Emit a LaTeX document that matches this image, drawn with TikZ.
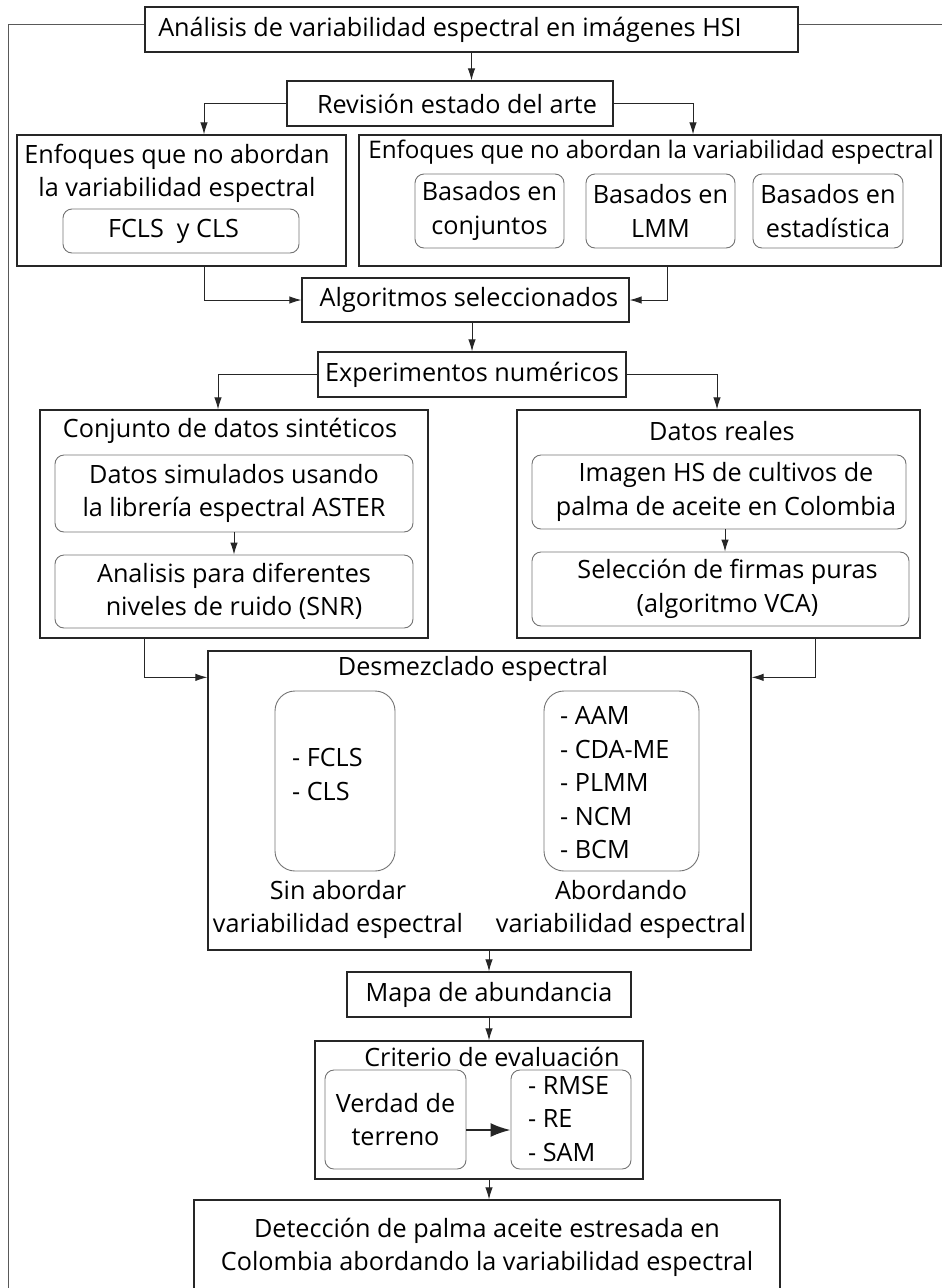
\documentclass[tikz,border=0pt]{standalone}
\usepackage{fontspec}
\setmainfont{Open Sans}
\usetikzlibrary{arrows.meta,calc}

\begin{document}
\begin{tikzpicture}[x=1pt,y=-1pt,
  font=\fontsize{25.2}{33.5}\selectfont,
  box/.style={draw=black!85,line width=1.3pt,inner sep=0pt,align=center},
  sbox/.style={draw=black!55,line width=0.9pt,rounded corners=9pt,inner sep=0pt,align=center},
  txt/.style={inner sep=0pt,align=center},
  lst/.style={inner sep=0pt,align=left,anchor=west},
  arr/.style={draw=black!85,line width=0.9pt,-{Latex[length=12pt,width=7.5pt]}},
  frame/.style={draw=black!65,line width=0.9pt}]
\useasboundingbox (0,0) rectangle (942,1288);
% top
\node[box,minimum width=653pt,minimum height=45pt] (title) at (471.5,29.5) {Análisis de variabilidad espectral en imágenes HSI\hspace*{43pt}};
\node[box,minimum width=326pt,minimum height=45pt] (rev) at (450,103.5) {\hspace*{14pt}Revisión estado del arte};
% state of the art
\node[box,minimum width=329pt,minimum height=131pt] (enf1) at (181.5,200.5) {};
\node[txt] (enf1t) at (177,173.5) {Enfoques que no abordan\\la variabilidad espectral};
\node[sbox,minimum width=236pt,minimum height=44pt] (fcls) at (181,231) {FCLS\ \ y CLS\hspace*{15pt}};
\node[box,minimum width=582pt,minimum height=131pt] (enf2) at (650,200.5) {};
\node[txt,font=\fontsize{24.2}{33.5}\selectfont] (enf2t) at (651,152) {Enfoques que no abordan la variabilidad espectral};
\node[sbox,minimum width=149pt,minimum height=74pt] (bconj) at (489.5,211) {Basados en\\conjuntos};
\node[sbox,minimum width=149pt,minimum height=74pt] (blmm) at (660.5,211) {Basados en\\LMM};
\node[sbox,minimum width=150pt,minimum height=74pt] (best) at (828,211) {Basados en\\estadística};
\node[box,minimum width=327pt,minimum height=44pt] (algo) at (465.5,300) {\hspace*{7pt}Algoritmos seleccionados};
\node[box,minimum width=308pt,minimum height=45pt] (exp) at (472,374.5) {Experimentos numéricos};
% data
\node[box,minimum width=388pt,minimum height=228pt] (conj) at (234,524) {};
\node[txt] (conjt) at (230,431) {Conjunto de datos sintéticos};
\node[sbox,minimum width=358pt,minimum height=77pt] (sim) at (234,493.5) {Datos simulados usando\\la librería espectral ASTER};
\node[sbox,minimum width=358pt,minimum height=73pt] (snr) at (234,591.5) {Analisis para diferentes\\niveles de ruido (SNR)};
\node[box,minimum width=403pt,minimum height=228pt] (reales) at (718.5,524) {};
\node[txt] (realest) at (722,431) {Datos reales};
\node[sbox,minimum width=374pt,minimum height=74pt] (hs) at (719,492) {\hspace*{14pt}Imagen HS de cultivos de\\\hspace*{14pt}palma de aceite en Colombia};
\node[sbox,minimum width=377pt,minimum height=74pt] (vca) at (720.5,589) {\hspace*{14pt}Selección de firmas puras\\\hspace*{14pt}(algoritmo VCA)};
% unmixing
\node[box,minimum width=543pt,minimum height=299pt] (desm) at (479.5,800.5) {};
\node[txt] (desmt) at (473,669) {Desmezclado espectral};
\node[sbox,rounded corners=20pt,minimum width=120pt,minimum height=180pt] (lft) at (335,781) {};
\node[lst] (lftl) at (292,774.5) {- FCLS\\- CLS};
\node[sbox,rounded corners=20pt,minimum width=155pt,minimum height=180pt] (rgt) at (621.5,781) {};
\node[lst] (rgtl) at (560,783) {- AAM\\- CDA-ME\\- PLMM\\- NCM\\- BCM};
\node[txt] (sin) at (338,909.5) {Sin abordar\\variabilidad espectral};
\node[txt] (abor) at (621,909.5) {Abordando\\variabilidad espectral};
% evaluation
\node[box,minimum width=284pt,minimum height=45pt] (mapa) at (489,994.5) {Mapa de abundancia};
\node[box,minimum width=328pt,minimum height=138pt] (crit) at (479,1110) {};
\node[txt] (critt) at (492,1057) {Criterio de evaluación};
\node[sbox,minimum width=141pt,minimum height=99pt] (ver) at (395.5,1119.5) {Verdad de\\terreno};
\node[sbox,minimum width=120pt,minimum height=99pt] (met) at (571,1119.5) {};
\node[lst] (metl) at (528,1118.5) {- RMSE\\- RE\\- SAM};
\node[box,minimum width=586pt,minimum height=95pt] (det) at (487,1247.5) {Detección de palma aceite estresada en\\Colombia abordando la variabilidad espectral};
% outer frame
\draw[frame] ([yshift=5.5pt]title.west) -- (8,24) -- (8,1300);
\draw[frame] ([yshift=5.5pt]title.east) -- (942,24);
% connectors
\draw[arr] (title.south) -- (title.south |- rev.north);
\draw[arr] (rev.west) -| ([xshift=22.5pt]enf1.north);
\draw[arr] (rev.east) -| ([xshift=43pt]enf2.north);
\draw[arr] ([xshift=22.5pt]enf1.south) |- (algo.west);
\draw[arr] ([xshift=17pt]enf2.south) |- (algo.east);
\draw[arr] (exp.north |- algo.south) -- (exp.north);
\draw[arr] (exp.west) -| ([xshift=-16pt]conj.north);
\draw[arr] (exp.east) -| ([xshift=-1.5pt]reales.north);
\draw[arr] (sim.south) -- (snr.north);
\draw[arr] ([xshift=6pt]hs.south) -- ([xshift=6pt]hs.south |- vca.north);
\draw[arr] ([xshift=-90pt]conj.south) |- ([yshift=-27pt]desm.north west);
\draw[arr] ([xshift=96.5pt]reales.south) |- ([yshift=-27pt]desm.north east);
\draw[arr] (mapa.north |- desm.south) -- (mapa.north);
\draw[arr] (mapa.south) -- (mapa.south |- crit.north);
\draw[arr,line width=2pt,-{Latex[length=20pt,width=14pt]}] ([yshift=-10.5pt]ver.east) -- ([yshift=-10.5pt]met.west);
\draw[arr] (mapa.south |- crit.south) -- (mapa.south |- det.north);
\end{tikzpicture}
\end{document}
